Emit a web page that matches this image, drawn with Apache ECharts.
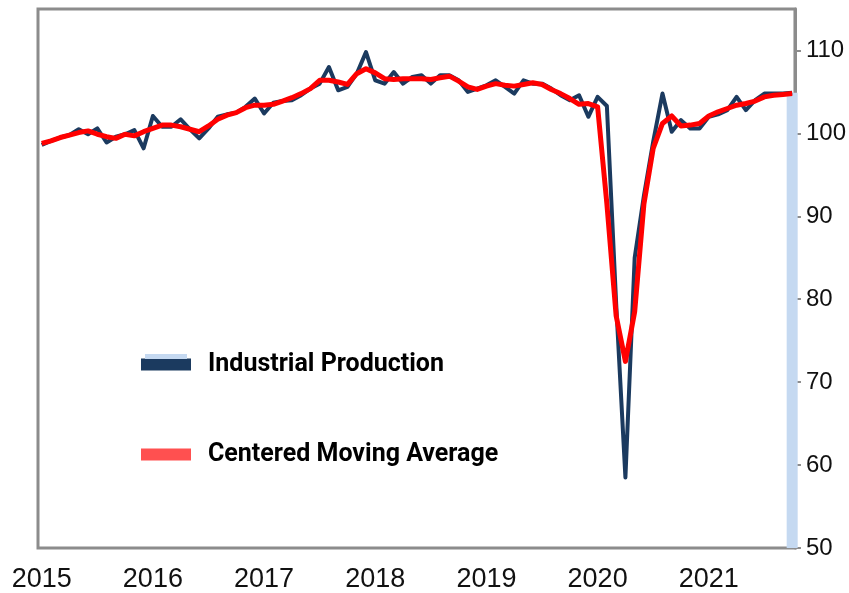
<!DOCTYPE html>
<html>
<head>
<meta charset="utf-8">
<script src="https://cdn.jsdelivr.net/npm/echarts@6/dist/echarts.min.js"></script>
<style>
  html, body { margin: 0; padding: 0; background: #ffffff; }
  #chart { width: 849px; height: 593px; }
</style>
</head>
<body>
<div id="chart"></div>
<script>
"use strict";

// Monthly readings, Jan 2015 .. Oct 2021.
const industrialProduction = [
  98.6, 99.1, 99.5, 99.8, 100.5, 99.9, 100.6, 98.9, 99.6, 99.9, 100.4, 98.2,
  102.1, 100.8, 100.8, 101.7, 100.5, 99.4, 100.6, 102.0, 102.3, 102.5, 103.2, 104.2,
  102.4, 103.7, 103.9, 104.0, 104.6, 105.4, 106.0, 108.0, 105.2, 105.6, 107.2, 109.8,
  106.4, 106.0, 107.4, 106.0, 106.8, 107.0, 106.0, 107.0, 107.0, 106.4, 105.0, 105.4,
  105.8, 106.4, 105.6, 104.8, 106.4, 106.0, 106.0, 105.4, 104.6, 104.0, 104.6, 102.0,
  104.4, 103.3, 79.5, 58.5, 85.0, 92.5, 99.0, 104.8, 100.2, 101.6, 100.6, 100.6,
  102.0, 102.3, 102.8, 104.4, 102.8, 104.0, 104.8, 104.8, 104.8, 104.9,
];

const movingAverage = [
  98.8, 99.1, 99.5, 99.8, 100.1, 100.3, 99.9, 99.6, 99.4, 99.9, 99.7, 100.2,
  100.6, 101.0, 101.0, 100.8, 100.5, 100.2, 100.9, 101.7, 102.2, 102.5, 103.1, 103.4,
  103.4, 103.5, 103.9, 104.3, 104.8, 105.4, 106.4, 106.4, 106.2, 105.9, 107.2, 107.8,
  107.3, 106.6, 106.5, 106.6, 106.6, 106.6, 106.5, 106.7, 106.9, 106.3, 105.6, 105.3,
  105.7, 106.0, 105.8, 105.7, 105.9, 106.1, 105.9, 105.3, 104.8, 104.2, 103.5, 103.6,
  103.2, 91.5, 78.0, 72.5, 78.5, 91.5, 98.2, 101.2, 102.1, 100.9, 101.0, 101.2,
  102.1, 102.6, 103.0, 103.4, 103.6, 103.9, 104.4, 104.6, 104.7, 104.8,
];

const yearLabels = ["2015", "2016", "2017", "2018", "2019", "2020", "2021"];
const yTicks = [50, 60, 70, 80, 90, 100, 110];

const NAVY = "#1b3a5f";
const RED = "#ff0000";
const BAND = "#c5d9f1";
const FRAME = "#8c8c8c";
const TICK_FONT = "'Liberation Sans', Arial, sans-serif";

// x is the month number counted from Jan 2015
const ipPoints = industrialProduction.map((v, i) => [i, v]);
const maPoints = movingAverage.map((v, i) => [i, v]);
const last = industrialProduction.length - 1;

const chart = echarts.init(document.getElementById("chart"));

chart.setOption({
  animation: false,
  backgroundColor: "#ffffff",
  grid: {
    left: 38,
    right: 53,
    top: 9,
    bottom: 45,
    show: true,
    borderColor: FRAME,
    borderWidth: 3,
  },
  xAxis: {
    type: "value",
    min: -0.4,
    max: 81.3,
    axisLine: { show: false },
    axisTick: { show: false },
    splitLine: { show: false },
    axisLabel: {
      customValues: yearLabels.map((_, k) => k * 12),
      formatter: (v) => yearLabels[Math.round(v / 12)],
      fontFamily: TICK_FONT,
      fontSize: 27,
      color: "#111111",
      margin: 18,
    },
  },
  yAxis: {
    type: "value",
    position: "right",
    min: 50,
    max: 115,
    axisLine: { show: true, onZero: false, lineStyle: { color: FRAME, width: 3 } },
    splitLine: { show: false },
    axisTick: {
      show: true,
      inside: false,
      length: 6,
      customValues: yTicks,
      lineStyle: { color: FRAME, width: 2 },
    },
    axisLabel: {
      customValues: yTicks,
      fontFamily: TICK_FONT,
      fontSize: 24,
      color: "#111111",
      margin: 11,
    },
  },
  legend: [
    {
      data: [
        { name: "Industrial Production", itemStyle: { color: NAVY } },
        { name: "Centered Moving Average", itemStyle: { color: "#ff5050" } },
      ],
      orient: "vertical",
      left: 136,
      top: 347,
      icon: "rect",
      itemWidth: 50,
      itemHeight: 12,
      itemGap: 65,
      selectedMode: false,
      textStyle: {
        fontFamily: "Roboto, 'Noto Sans', sans-serif",
        fontWeight: "bold",
        fontSize: 25,
        color: "#000000",
        padding: [0, 0, 0, 12],
      },
    },
    {
      // light strip sitting above the navy swatch
      data: [{ name: "IP band", itemStyle: { color: BAND } }],
      left: 140,
      top: 349,
      icon: "rect",
      itemWidth: 42,
      itemHeight: 5,
      selectedMode: false,
      formatter: () => "",
      textStyle: { fontSize: 4 },
    },
  ],
  series: [
    {
      name: "IP band",
      type: "bar",
      data: [[last, industrialProduction[last]]],
      barWidth: 11,
      itemStyle: { color: BAND },
      silent: true,
    },
    {
      name: "Industrial Production",
      type: "line",
      data: ipPoints,
      showSymbol: false,
      lineStyle: { color: NAVY, width: 4, join: "round" },
      itemStyle: { color: NAVY },
    },
    {
      name: "Centered Moving Average",
      type: "line",
      data: maPoints,
      showSymbol: false,
      lineStyle: { color: RED, width: 5, join: "round" },
      itemStyle: { color: RED },
    },
  ],
});
</script>
</body>
</html>
